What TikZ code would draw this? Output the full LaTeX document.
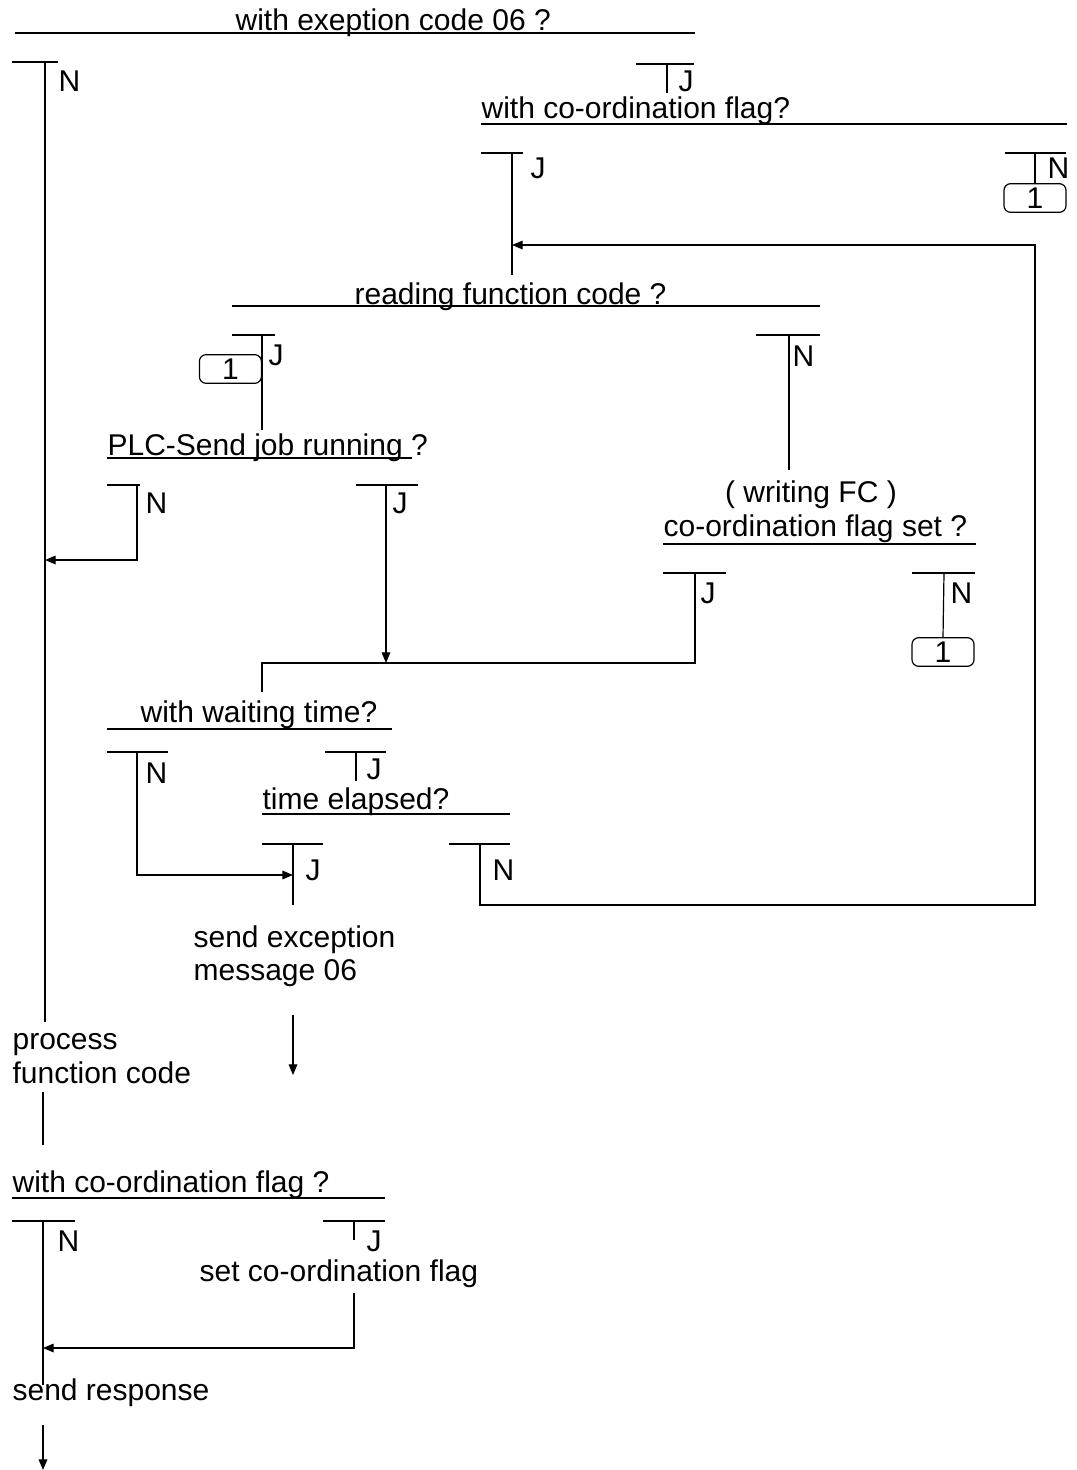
\documentclass[tikz,border=0pt]{standalone}
\usepackage{fontspec}
\setmainfont{Liberation Sans}
\usetikzlibrary{arrows.meta}

\begin{document}
\begin{tikzpicture}[x=0.75pt,y=-0.75pt,
  every path/.style={line width=0.9pt},
  txt/.style={anchor=base west,inner sep=0pt,font=\fontsize{22.5}{26}\selectfont},
  mid/.style={anchor=base,inner sep=0pt,font=\fontsize{22.5}{26}\selectfont},
  jump/.style={draw,rounded corners=5pt,minimum width=46.5pt,minimum height=21.5pt,
    inner sep=0pt,font=\fontsize{22.5}{26}\selectfont},
  flow/.style={-{Triangle[length=8pt,width=6.5pt]}}]
\useasboundingbox (0,0) rectangle (1077,1470);

% ---- with exception code 06 ?
\node[txt] (d1) at (235,31) {with exeption code 06 ?};
\draw (15,33) -- (695,33);
\draw (12,62) -- (58,62);
\node[txt] (d1n) at (58,92) {N};
\draw (636,64) -- (694,64);
\coordinate (d1jt) at (667,64);
\coordinate (d1jb) at (667,93);
\draw (d1jt) -- (d1jb);
\node[txt] (d1j) at (678,91) {J};

% ---- with co-ordination flag?
\node[txt] (d2) at (481,118) {with co-ordination flag?};
\draw (481,124) -- (1067,124);
\draw (481,153) -- (523,153);
\node[txt] (d2j) at (530,178) {J};
\draw (1005,153) -- (1066,153);
\node[txt] (d2n) at (1047,178) {N};
\node[jump] (c1) at (1035,198) {1};
\coordinate (d2nt) at (1035,153);
\draw (d2nt) -- (c1.north);
\coordinate (d2jt) at (512,153);
\coordinate (d2jb) at (512,275);
\coordinate (loopin) at (512,245);
\draw (d2jt) -- (d2jb);

% ---- reading function code ?
\node[txt] (d3) at (354,304) {reading function code ?};
\draw (232,306) -- (820,306);
\draw (232,335) -- (275,335);
\node[txt] (d3j) at (268,365) {J};
\node[jump,anchor=east] (c2) at (262,369) {1};
\coordinate (d3jt) at (262,335);
\coordinate (d3jb) at (262,430);
\draw (d3jt) -- (d3jb);
\draw (756,335) -- (820,335);
\node[txt] (d3n) at (792,366) {N};
\coordinate (d3nt) at (789,335);
\coordinate (d3nb) at (789,470);
\draw (d3nt) -- (d3nb);

% ---- PLC-Send job running ?
\node[txt] (d4) at (107,455) {PLC-Send job running ?};
\draw (107,458) -- (412,458);
\draw (107,485) -- (140,485);
\node[txt] (d4n) at (145,513) {N};
\coordinate (d4nt) at (137,485);
\coordinate (d4nc) at (137,560);
\coordinate (mainj) at (45,560);
\draw[flow] (d4nt) -- (d4nc) -- (mainj);
\draw (356,485) -- (418,485);
\node[txt] (d4j) at (392,513) {J};
\coordinate (d4jt) at (386,485);
\coordinate (merge) at (386,663);
\draw[flow] (d4jt) -- (merge);

% ---- (writing FC) co-ordination flag set ?
\node[mid] (d5a) at (811,502) {( writing FC )};
\node[txt] (d5) at (663,536) {co-ordination flag set ?};
\draw (663,544) -- (976,544);
\draw (663,573) -- (726,573);
\node[txt] (d5j) at (700,603) {J};
\coordinate (d5jt) at (695,573);
\coordinate (d5jc) at (695,663);
\coordinate (d6in) at (262,663);
\coordinate (d6top) at (262,692);
\draw (d5jt) -- (d5jc) -- (d6in) -- (d6top);
\draw (912,573) -- (975,573);
\node[txt] (d5n) at (950,603) {N};
\node[jump] (c3) at (943,652) {1};
\coordinate (d5nt) at (944,573);
\draw (d5nt) -- (c3.north);

% ---- with waiting time?
\node[txt] (d6) at (140,722) {with waiting time?};
\draw (107,729) -- (392,729);
\draw (107,752) -- (168,752);
\node[txt] (d6n) at (145,783) {N};
\coordinate (d6nt) at (137,752);
\coordinate (d6nc) at (137,875);
\coordinate (exin) at (293,875);
\draw[flow] (d6nt) -- (d6nc) -- (exin);
\draw (325,752) -- (386,752);
\node[txt] (d6j) at (366,779) {J};
\coordinate (d6jt) at (356,752);
\coordinate (d6jb) at (356,781);
\draw (d6jt) -- (d6jb);

% ---- time elapsed?
\node[txt] (d7) at (262,809) {time elapsed?};
\draw (262,814) -- (510,814);
\draw (262,844) -- (323,844);
\node[txt] (d7j) at (305,880) {J};
\coordinate (d7jt) at (293,844);
\coordinate (d7jb) at (293,905);
\draw (d7jt) -- (d7jb);
\draw (449,844) -- (510,844);
\node[txt] (d7n) at (492,880) {N};
\coordinate (d7nt) at (480,844);
\coordinate (d7nb) at (480,905);
\coordinate (loopc) at (1035,905);
\coordinate (looptop) at (1035,245);
\draw[flow] (d7nt) -- (d7nb) -- (loopc) -- (looptop) -- (loopin);

% ---- exception message
\node[txt] (ex1) at (193,947) {send exception};
\node[txt] (ex2) at (193,980) {message 06};
\coordinate (exa) at (293,1015);
\coordinate (exb) at (293,1075);
\draw[flow] (exa) -- (exb);

% ---- main path on the left
\coordinate (m0) at (45,62);
\coordinate (m1) at (45,1022);
\draw (m0) -- (m1);
\node[txt] (pf1) at (12,1049) {process};
\node[txt] (pf2) at (12,1083) {function code};
\coordinate (m2) at (43,1092);
\coordinate (m3) at (43,1145);
\draw (m2) -- (m3);

% ---- with co-ordination flag ?
\node[txt] (d8) at (12,1192) {with co-ordination flag ?};
\draw (12,1198) -- (385,1198);
\draw (12,1221) -- (75,1221);
\node[txt] (d8n) at (57,1251) {N};
\coordinate (d8nt) at (43,1221);
\coordinate (d8nb) at (43,1385);
\coordinate (back) at (43,1348);
\draw (d8nt) -- (d8nb);
\draw (323,1221) -- (385,1221);
\node[txt] (d8j) at (366,1251) {J};
\coordinate (d8jt) at (354,1221);
\coordinate (d8jb) at (354,1240);
\draw (d8jt) -- (d8jb);
\node[txt] (setf) at (199,1281) {set co-ordination flag};
\coordinate (sf1) at (354,1293);
\coordinate (sf2) at (354,1348);
\draw[flow] (sf1) -- (sf2) -- (back);

% ---- send response
\node[txt] (resp) at (12,1400) {send response};
\coordinate (ra) at (43,1425);
\coordinate (rb) at (43,1470);
\draw[flow] (ra) -- (rb);
\end{tikzpicture}
\end{document}
